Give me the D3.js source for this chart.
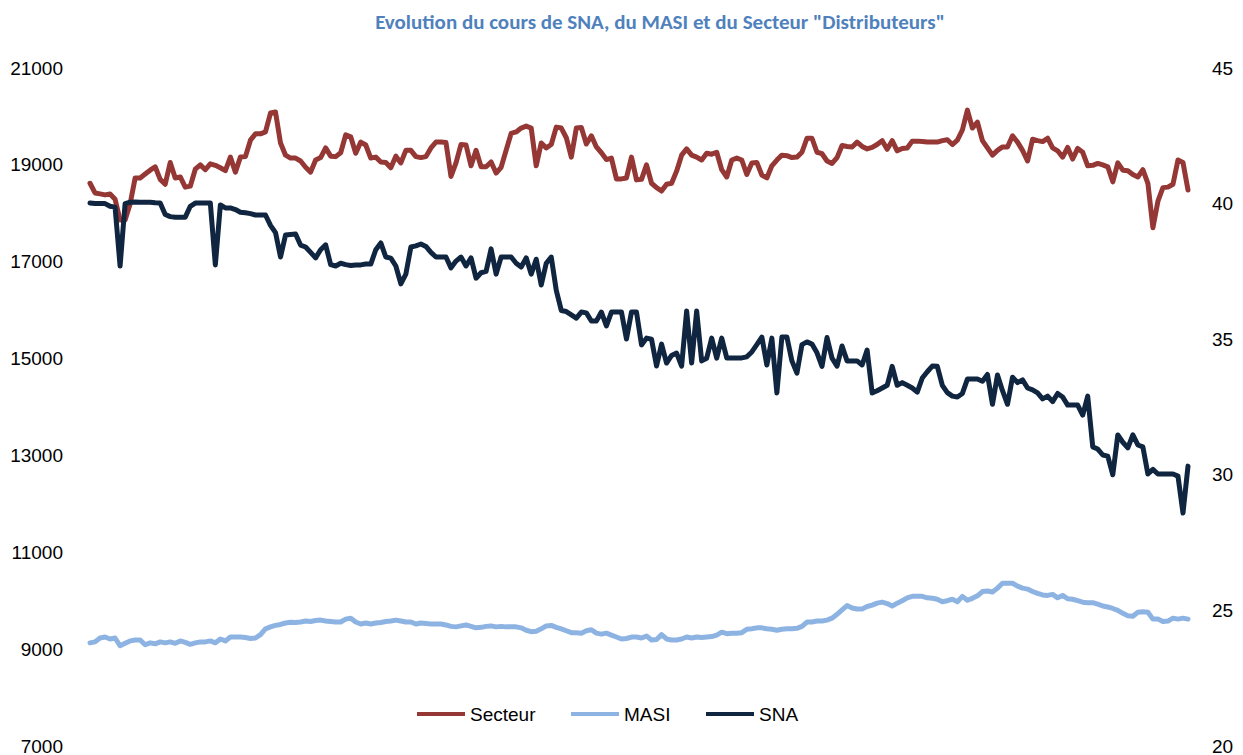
<!DOCTYPE html>
<html>
<head>
<meta charset="utf-8">
<script src="https://cdn.jsdelivr.net/npm/d3@7"></script>
<style>
  body { margin: 0; background: #fff; }
  svg { display: block; font-family: "Liberation Sans", Arial, sans-serif; }
</style>
</head>
<body>
<svg width="1243" height="755"></svg>
<script>
// tick labels of both axes
var leftTicks = [7000, 9000, 11000, 13000, 15000, 17000, 19000, 21000];
var rightTicks = [20, 25, 30, 35, 40, 45];

// series names, in legend order
var seriesNames = ["Secteur", "MASI", "SNA"];

// daily values (one per trading session)
var secteur = [
  18620,18420,18400,18380,18400,18290,17860,17860,18190,18730,
  18730,18810,18890,18960,18700,18600,19050,18730,18750,18540,
  18560,18910,19000,18900,19020,18990,18940,18880,19160,18850,
  19160,19170,19510,19640,19640,19680,20070,20090,19450,19200,
  19140,19140,19080,18950,18850,19100,19150,19350,19180,19170,
  19250,19620,19580,19240,19470,19410,19140,19160,19060,19050,
  18940,19180,19040,19300,19300,19170,19150,19170,19350,19470,
  19470,19460,18760,19040,19420,19410,18980,19300,18960,18960,
  19060,18830,18950,19300,19650,19680,19760,19800,19760,18980,
  19450,19350,19420,19780,19760,19560,19160,19760,19770,19430,
  19600,19370,19250,19110,19140,18710,18710,18730,19160,18690,
  18700,19000,18620,18530,18460,18600,18620,18870,19200,19330,
  19200,19160,19100,19240,19220,19260,18900,18750,19100,19140,
  19100,18800,19040,19050,18790,18730,18980,19100,19200,19190,
  19150,19160,19260,19550,19550,19260,19230,19080,19030,19150,
  19400,19380,19370,19470,19380,19330,19360,19420,19500,19320,
  19500,19290,19340,19350,19490,19490,19480,19470,19470,19470,
  19500,19520,19420,19510,19720,20130,19760,19880,19500,19350,
  19200,19300,19370,19370,19600,19470,19300,19080,19530,19500,
  19480,19550,19350,19290,19160,19360,19120,19340,19260,18980,
  18990,19030,19000,18960,18650,19040,18890,18880,18800,18750,
  18900,18620,17700,18250,18530,18540,18600,19100,19050,18480
];

var masi = [
  9130,9150,9230,9250,9210,9230,9070,9120,9170,9190,
  9190,9090,9130,9110,9150,9130,9150,9120,9170,9140,
  9100,9130,9150,9150,9170,9130,9210,9170,9250,9250,
  9250,9240,9220,9230,9300,9420,9460,9490,9510,9540,
  9555,9550,9560,9580,9570,9590,9600,9580,9570,9560,
  9560,9620,9640,9560,9520,9540,9520,9540,9550,9570,
  9580,9600,9580,9560,9560,9520,9540,9530,9520,9520,
  9520,9500,9470,9460,9480,9500,9470,9440,9450,9470,
  9480,9460,9470,9460,9460,9460,9440,9390,9360,9370,
  9420,9480,9490,9450,9420,9380,9340,9340,9330,9380,
  9400,9330,9310,9330,9290,9250,9210,9220,9250,9250,
  9230,9270,9190,9200,9300,9210,9190,9190,9210,9250,
  9230,9250,9240,9250,9260,9290,9350,9320,9330,9330,
  9340,9410,9420,9440,9440,9420,9410,9390,9410,9420,
  9420,9430,9470,9560,9560,9580,9580,9600,9640,9720,
  9810,9900,9850,9830,9830,9880,9910,9950,9970,9940,
  9890,9950,10000,10060,10090,10090,10090,10060,10050,10030,
  9980,10000,10030,9980,10090,10010,10050,10100,10190,10200,
  10180,10260,10360,10360,10360,10300,10260,10240,10190,10150,
  10120,10110,10130,10060,10110,10040,10030,10000,9970,9960,
  9960,9930,9890,9870,9840,9800,9740,9690,9680,9760,
  9770,9760,9620,9620,9570,9580,9640,9620,9640,9620
];

var sna = [
  40.02,40.0,40.0,40.0,39.9,39.87,37.7,40.0,40.05,40.06,
  40.05,40.05,40.05,40.03,40.02,39.6,39.52,39.5,39.5,39.5,
  39.9,40.02,40.02,40.02,40.02,37.74,39.95,39.84,39.84,39.78,
  39.68,39.66,39.63,39.58,39.58,39.58,39.2,38.93,38.03,38.84,
  38.86,38.88,38.47,38.4,38.2,38.0,38.3,38.48,37.75,37.7,
  37.8,37.75,37.72,37.74,37.74,37.77,37.77,38.3,38.55,38.03,
  37.99,37.7,37.04,37.4,38.4,38.44,38.51,38.42,38.2,38.03,
  38.03,38.03,37.63,37.88,38.03,37.7,38.0,37.25,37.45,37.5,
  38.33,37.4,38.03,38.03,38.03,37.8,37.66,38.0,37.4,37.95,
  37.0,37.8,38.03,36.8,36.06,36.02,35.9,35.78,36.0,35.97,
  35.67,35.67,36.0,35.49,36.0,36.0,36.0,35.01,36.0,36.0,
  34.79,35.04,35.0,34.01,34.82,34.12,34.4,34.49,34.01,36.04,
  34.12,36.04,34.2,34.3,35.04,34.3,35.04,34.31,34.31,34.31,
  34.31,34.35,34.53,34.8,35.08,34.05,35.04,33.02,35.08,35.08,
  34.2,33.75,34.8,34.9,34.82,34.5,34.0,35.06,34.3,34.01,
  34.75,34.2,34.2,34.2,34.05,34.6,33.02,33.1,33.2,33.3,
  34.0,33.3,33.4,33.3,33.2,33.05,33.57,33.8,34.01,34.0,
  33.3,33.03,32.9,32.87,33.0,33.53,33.53,33.53,33.45,33.7,
  32.6,33.68,33.1,32.6,33.6,33.4,33.5,33.2,33.13,33.02,
  32.8,32.9,32.7,33.0,32.87,32.57,32.57,32.57,32.2,32.9,
  31.03,30.95,30.73,30.69,30.0,31.47,31.2,30.99,31.47,31.1,
  31.03,30.03,30.2,30.03,30.03,30.03,30.03,29.95,28.59,30.32
];

var colors = { "Secteur": "#953735", "MASI": "#8DB3E2", "SNA": "#10253F" };

function drawChart(){
  var svg = d3.select("svg");

  var x = d3.scaleLinear().domain([0, secteur.length - 1]).range([90, 1188]);
  var yLeft = d3.scaleLinear().domain([7000, 21000]).range([746, 68]);
  var yRight = d3.scaleLinear().domain([20, 45]).range([746, 68]);

  // title
  svg.append("text")
    .attr("x", 660)
    .attr("y", 29)
    .attr("text-anchor", "middle")
    .style("font-family", "Calibri, Carlito, Lato, sans-serif")
    .style("font-size", "21px")
    .style("font-weight", "bold")
    .style("fill", "#4F81BD")
    .text("Evolution du cours de SNA, du MASI et du Secteur \"Distributeurs\"");

  // axes, labels only
  var gLeft = svg.append("g")
    .attr("transform", "translate(68,0)")
    .call(d3.axisLeft(yLeft).tickValues(leftTicks).tickSize(0).tickPadding(5).tickFormat(d3.format("d")));
  var gRight = svg.append("g")
    .attr("transform", "translate(1207,0)")
    .call(d3.axisRight(yRight).tickValues(rightTicks).tickSize(0).tickPadding(5));

  [gLeft, gRight].forEach(function(g){
    g.select(".domain").remove();
    g.selectAll("text")
      .style("font-size", "19px")
      .style("font-family", "\"Liberation Sans\", Arial, sans-serif")
      .style("fill", "#000");
  });

  var lineLeft = d3.line()
    .x(function(d, i){ return x(i); })
    .y(function(d){ return yLeft(d); });
  var lineRight = d3.line()
    .x(function(d, i){ return x(i); })
    .y(function(d){ return yRight(d); });

  var series = [
    { name: "Secteur", values: secteur, line: lineLeft },
    { name: "MASI", values: masi, line: lineLeft },
    { name: "SNA", values: sna, line: lineRight }
  ];

  svg.selectAll(".serie")
    .data(series)
    .enter().append("path")
    .attr("class", "serie")
    .attr("d", function(d){ return d.line(d.values); })
    .attr("fill", "none")
    .attr("stroke", function(d){ return colors[d.name]; })
    .attr("stroke-width", 5)
    .attr("stroke-linejoin", "round")
    .attr("stroke-linecap", "round");

  // legend
  var legendX = [417, 571, 706];
  var legend = svg.selectAll(".legend")
    .data(seriesNames)
    .enter().append("g")
    .attr("class", "legend")
    .attr("transform", function(d, i){ return "translate(" + legendX[i] + ",714)"; });

  legend.append("line")
    .attr("x1", 0).attr("x2", 48)
    .attr("y1", 0).attr("y2", 0)
    .attr("stroke", function(d){ return colors[d]; })
    .attr("stroke-width", 4);

  legend.append("text")
    .attr("x", 53)
    .attr("dy", "0.35em")
    .style("font-size", "19px")
    .text(function(d){ return d; });
}

drawChart();
</script>
</body>
</html>
